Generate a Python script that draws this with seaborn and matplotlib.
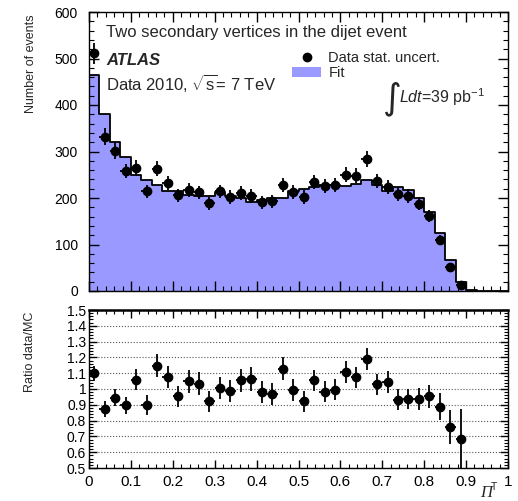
import numpy as np
import pandas as pd
import matplotlib
matplotlib.use("Agg")
import matplotlib.pyplot as plt
import seaborn as sns
from matplotlib.lines import Line2D
from matplotlib.patches import Patch
from matplotlib.ticker import FixedLocator, FixedFormatter, MultipleLocator

# Events per bin of Pi^T (40 bins on [0, 1])
data_counts = [511, 332, 302, 258, 265, 214, 263, 232, 206, 217,
               212, 189, 214, 202, 211, 204, 191, 193, 227, 213,
               202, 235, 225, 227, 250, 248, 284, 236, 224, 209,
               204, 188, 162, 110, 51, 13, 0, 0, 0, 0]
fit_counts = [465, 380, 320, 288, 250, 238, 229, 216, 216, 207,
              205, 205, 213, 204, 200, 192, 195, 199, 201, 214,
              219, 223, 229, 228, 226, 231, 239, 229, 215, 224,
              218, 201, 170, 124, 67, 19, 2, 0, 0, 0]

x_ticklabels = ["0", "0.1", "0.2", "0.3", "0.4", "0.5", "0.6", "0.7", "0.8", "0.9", "1"]
y_ticklabels = ["0", "100", "200", "300", "400", "500", "600"]
ratio_ticklabels = ["0.5", "0.6", "0.7", "0.8", "0.9", "1", "1.1", "1.2", "1.3", "1.4", "1.5"]

sns.set_style("ticks")
plt.rcParams["font.family"] = ["Liberation Sans", "DejaVu Sans"]
plt.rcParams["mathtext.fontset"] = "custom"
plt.rcParams["mathtext.rm"] = "Liberation Sans"
plt.rcParams["mathtext.it"] = "Liberation Sans:italic"
plt.rcParams["axes.linewidth"] = 1.0
plt.rcParams["axes.edgecolor"] = "black"
plt.rcParams["xtick.color"] = "black"
plt.rcParams["ytick.color"] = "black"

W, H = 518, 501


def px(x, y):
    return x / W, 1 - y / H


fig = plt.figure(figsize=(W / 100, H / 100), dpi=100)
ax1 = fig.add_axes([89 / W, 1 - 291 / H, 419 / W, 279 / H])
ax2 = fig.add_axes([89 / W, 1 - 468 / H, 419 / W, 158 / H])

data = np.array(data_counts, dtype=float)
fit = np.array(fit_counts, dtype=float)
nbins = len(data)
edges = np.linspace(0, 1, nbins + 1)
centers = 0.5 * (edges[:-1] + edges[1:])
half = 0.5 * np.diff(edges)
df = pd.DataFrame({"pit": centers, "fit": fit})

fill_col = "#9999ff"

# Fit histogram: filled area plus black outline
sns.histplot(data=df, x="pit", weights="fit", bins=nbins, binrange=(0, 1),
             element="step", fill=True, color=fill_col, alpha=1.0,
             linewidth=0, ax=ax1)
sns.histplot(data=df, x="pit", weights="fit", bins=nbins, binrange=(0, 1),
             element="step", fill=False, color="black", linewidth=1.3, ax=ax1)

# Data with statistical uncertainties
m = data > 0
err = np.sqrt(data)
ax1.errorbar(centers[m], data[m], yerr=err[m], xerr=half[m], fmt="o",
             color="black", ms=6, elinewidth=1.3, capsize=0, zorder=5)

ax1.set_axisbelow(False)
ax1.set_xlim(0, 1)
ax1.set_ylim(0, 600)
ax1.set_xlabel("")
ax1.set_ylabel("Number of events", fontsize=9, loc="top")
ax1.yaxis.set_label_coords((37 - 89) / 419, 0.99)
ax1.xaxis.set_major_locator(MultipleLocator(0.1))
ax1.xaxis.set_minor_locator(MultipleLocator(0.02))
ax1.set_xticklabels([])
ax1.yaxis.set_major_locator(FixedLocator([0, 100, 200, 300, 400, 500, 600]))
ax1.yaxis.set_major_formatter(FixedFormatter(y_ticklabels))
ax1.yaxis.set_minor_locator(MultipleLocator(20))
ax1.tick_params(which="both", direction="in", top=True, right=True,
                bottom=True, left=True, labelsize=10, color="black")
ax1.tick_params(which="major", length=7, width=1.0)
ax1.tick_params(which="minor", length=3.5, width=0.8)
ax1.tick_params(axis="y", pad=8)

# Data / fit ratio
r = np.divide(data, fit, out=np.zeros_like(data), where=fit > 0)
rerr = np.divide(err, fit, out=np.zeros_like(data), where=fit > 0)
ax2.errorbar(centers[m], r[m], yerr=rerr[m], xerr=half[m], fmt="o",
             color="black", ms=6, elinewidth=1.3, capsize=0, zorder=5)
ax2.set_xlim(0, 1)
ax2.set_ylim(0.5, 1.5)
ax2.xaxis.set_major_locator(FixedLocator(np.linspace(0, 1, 11)))
ax2.xaxis.set_major_formatter(FixedFormatter(x_ticklabels))
ax2.xaxis.set_minor_locator(MultipleLocator(0.02))
ax2.yaxis.set_major_locator(FixedLocator(np.linspace(0.5, 1.5, 11)))
ax2.yaxis.set_major_formatter(FixedFormatter(ratio_ticklabels))
ax2.yaxis.set_minor_locator(MultipleLocator(0.02))
ax2.tick_params(which="both", direction="in", top=True, right=True,
                bottom=True, left=True, labelsize=10, color="black")
ax2.tick_params(which="major", length=6, width=1.0)
ax2.tick_params(which="minor", length=3, width=0.8)
ax2.tick_params(axis="y", pad=2)
ax2.tick_params(axis="x", pad=5, labelsize=11)
ax2.yaxis.grid(True, which="major", linestyle=":", color="#555555", linewidth=0.8)
ax2.spines["top"].set_linewidth(1.8)
ax2.set_ylabel("Ratio data/MC", fontsize=9, loc="top")
ax2.yaxis.set_label_coords((36 - 89) / 419, 0.99)

# Annotations
fig.text(*px(106, 37), "Two secondary vertices in the dijet event", fontsize=12)
fig.text(*px(106, 65), "ATLAS", fontsize=12, fontweight="bold", fontstyle="italic")
fig.text(*px(106, 90), r"Data 2010, $\sqrt{\mathrm{s}}$= 7 TeV", fontsize=12)
fig.text(*px(383, 108), "\u222b", fontsize=26, family="DejaVu Sans")
fig.text(*px(399, 103), r"$Ldt$=39 pb$^{-1}$", fontsize=11.5)
fig.text(*px(480, 497), "Π", fontsize=12, family="Liberation Serif",
         fontstyle="italic", va="baseline")
fig.text(*px(491, 490), "T", fontsize=7.5, va="baseline")

handles = [Line2D([], [], marker="o", color="black", linestyle="none", ms=6),
           Patch(facecolor=fill_col, edgecolor="none")]
fig.legend(handles, ["Data stat. uncert.", "Fit"], loc="upper left",
           bbox_to_anchor=px(292, 51), frameon=False, fontsize=10.5,
           handlelength=2.0, handletextpad=0.5, labelspacing=0.1, borderpad=0,
           borderaxespad=0)

fig.savefig("out.png", dpi=100)
